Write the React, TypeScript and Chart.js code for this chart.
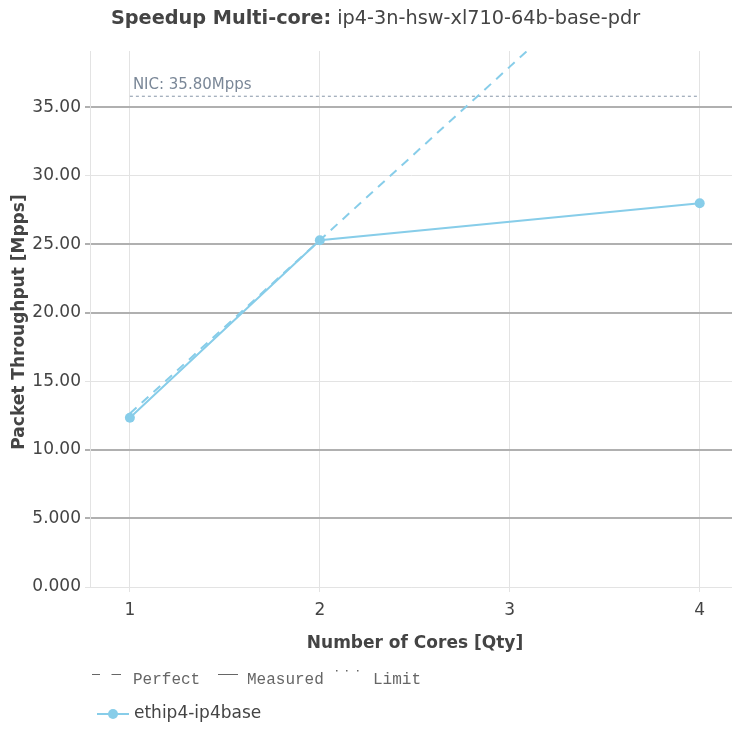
import React, { useEffect, useRef } from "react";
import { Chart, registerables } from "chart.js";

Chart.register(...registerables);

const cores = [1, 2, 4];
const measured = [12.35, 25.3, 28.0];
const perfectCores = [1, 2, 4];
const perfect = [12.65, 25.3, 50.6];
const limitCores = [1, 4];
const nicLimit = 35.8;
const xTicks = [1, 2, 3, 4];
const yTicks = [0, 5, 10, 15, 20, 25, 30, 35];
const darkGridValues = [5, 10, 20, 25, 35];

const titleBold = "Speedup Multi-core:";
const titleRest = " ip4-3n-hsw-xl710-64b-base-pdr";
const xTitle = "Number of Cores [Qty]";
const yTitle = "Packet Throughput [Mpps]";
const seriesName = "ethip4-ip4base";
const nicLabel = "NIC: 35.80Mpps";

const LINE = "#87cde9";
const FONT = "'DejaVu Sans', sans-serif";
const MONO = "'Liberation Mono', 'DejaVu Sans Mono', monospace";
const TEXT = "#444444";
const PLOT_RIGHT = 732;

const areaPlugin = {
  id: "areaFix",
  afterLayout(chart: any) {
    const ca = chart.chartArea;
    const xs = chart.scales.x;
    if (ca && xs && ca.right !== PLOT_RIGHT) {
      ca.right = PLOT_RIGHT;
      ca.width = ca.right - ca.left;
      xs.right = PLOT_RIGHT;
      xs.width = PLOT_RIGHT - xs.left;
      xs.configure();
    }
  },
};

const textPlugin = {
  id: "texts",
  afterDraw(chart: any) {
    const ctx = chart.ctx as CanvasRenderingContext2D;
    ctx.save();
    // Title
    ctx.textBaseline = "middle";
    ctx.textAlign = "left";
    ctx.fillStyle = TEXT;
    const TS = 19.3;
    ctx.font = `bold ${TS}px ${FONT}`;
    const wb = ctx.measureText(titleBold).width;
    ctx.font = `${TS}px ${FONT}`;
    const wr = ctx.measureText(titleRest).width;
    const startX = 375.5 - (wb + wr) / 2;
    ctx.font = `bold ${TS}px ${FONT}`;
    ctx.fillText(titleBold, startX, 18.5);
    ctx.font = `${TS}px ${FONT}`;
    ctx.fillText(titleRest, startX + wb, 18.5);

    // Axis titles
    ctx.font = `bold 17px ${FONT}`;
    ctx.textAlign = "center";
    const area = chart.chartArea;
    ctx.fillText(xTitle, 415, 644);
    ctx.save();
    ctx.translate(20, (area.top + area.bottom) / 2 + 3);
    ctx.rotate(-Math.PI / 2);
    ctx.fillText(yTitle, 0, 0);
    ctx.restore();

    // NIC label
    const xs = chart.scales.x;
    const ys = chart.scales.y;
    ctx.textAlign = "left";
    ctx.font = `15px ${FONT}`;
    ctx.fillStyle = "#7a8797";
    ctx.fillText(nicLabel, xs.getPixelForValue(1) + 3, ys.getPixelForValue(nicLimit) - 11);

    // Line-style legend
    ctx.fillStyle = "#666666";
    ctx.font = `16px ${MONO}`;
    ctx.textBaseline = "alphabetic";
    ctx.fillText("Perfect", 133, 684);
    ctx.fillText("Measured", 247, 684);
    ctx.fillText("Limit", 373, 684);
    ctx.strokeStyle = "#666666";
    ctx.lineWidth = 1;
    ctx.beginPath();
    ctx.moveTo(92, 674.5); ctx.lineTo(100, 674.5);
    ctx.moveTo(111.5, 674.5); ctx.lineTo(121, 674.5);
    ctx.moveTo(218, 674.5); ctx.lineTo(238, 674.5);
    ctx.stroke();
    ctx.fillRect(336, 670, 1.5, 1.5);
    ctx.fillRect(346, 670, 1.5, 1.5);
    ctx.fillRect(357, 670, 1.5, 1.5);

    // Series legend
    ctx.strokeStyle = LINE;
    ctx.lineWidth = 2;
    ctx.beginPath();
    ctx.moveTo(97, 714);
    ctx.lineTo(129, 714);
    ctx.stroke();
    ctx.fillStyle = LINE;
    ctx.beginPath();
    ctx.arc(113, 714, 5, 0, Math.PI * 2);
    ctx.fill();
    ctx.fillStyle = TEXT;
    ctx.font = `17px ${FONT}`;
    ctx.textBaseline = "middle";
    ctx.fillText(seriesName, 134, 714);
    ctx.restore();
  },
};

export default function App() {
  const ref = useRef<HTMLCanvasElement>(null);
  useEffect(() => {
    if (!ref.current) return;
    const chart = new Chart(ref.current, {
      type: "line",
      data: {
        datasets: [
          {
            label: "Perfect",
            data: perfectCores.map((c, i) => ({ x: c, y: perfect[i] })),
            borderColor: LINE,
            borderWidth: 2,
            borderDash: [9, 7],
            pointRadius: 0,
            fill: false,
          },
          {
            label: seriesName,
            data: cores.map((c, i) => ({ x: c, y: measured[i] })),
            borderColor: LINE,
            backgroundColor: LINE,
            borderWidth: 2,
            pointRadius: 5,
            pointBorderWidth: 0,
            fill: false,
          },
          {
            label: "Limit",
            data: limitCores.map((c) => ({ x: c, y: nicLimit })),
            borderColor: "#8796a8",
            borderWidth: 1,
            borderDash: [3, 3],
            pointRadius: 0,
            fill: false,
          },
        ],
      },
      options: {
        animation: false,
        responsive: false,
        devicePixelRatio: 1,
        layout: { padding: { top: 51, bottom: 102, left: 0, right: 0 } },
        plugins: { legend: { display: false }, title: { display: false }, tooltip: { enabled: false } },
        scales: {
          x: {
            type: "linear",
            min: 0.79,
            max: 4.17,
            afterBuildTicks: (s: any) => {
              s.ticks = xTicks.map((v) => ({ value: v }));
            },
            afterFit: (s: any) => {
              s.height = 40;
              s.paddingLeft = 0;
              s.paddingRight = 0;
            },
            ticks: {
              color: TEXT,
              font: { family: FONT, size: 17 },
              padding: 8,
              maxRotation: 0,
              callback: (v: any) => String(v),
            },
            grid: { color: "#e3e3e3", lineWidth: 1, tickLength: 5, drawTicks: true },
            border: { color: "#e3e3e3" },
          },
          y: {
            type: "linear",
            min: 0,
            max: 39.1,
            afterBuildTicks: (s: any) => {
              s.ticks = yTicks.map((v) => ({ value: v }));
            },
            afterFit: (s: any) => {
              s.width = 90;
              s.paddingTop = 0;
              s.paddingBottom = 0;
            },
            ticks: {
              color: TEXT,
              font: { family: FONT, size: 17 },
              padding: 4,
              callback: (v: any) => (v < 10 ? Number(v).toFixed(3) : Number(v).toFixed(2)),
            },
            grid: {
              color: (c: any) => (darkGridValues.includes(c.tick?.value) ? "#b0b0b0" : "#e3e3e3"),
              lineWidth: (c: any) => (darkGridValues.includes(c.tick?.value) ? 2 : 1),
              tickLength: 5,
            },
            border: { color: "#e3e3e3" },
          },
        },
      },
      plugins: [areaPlugin, textPlugin],
    } as any);
    return () => chart.destroy();
  }, []);
  return (
    <div style={{ position: "fixed", left: 0, top: 0, width: 732, height: 729, background: "#fff" }}>
      <canvas ref={ref} width={732} height={729} />
    </div>
  );
}
